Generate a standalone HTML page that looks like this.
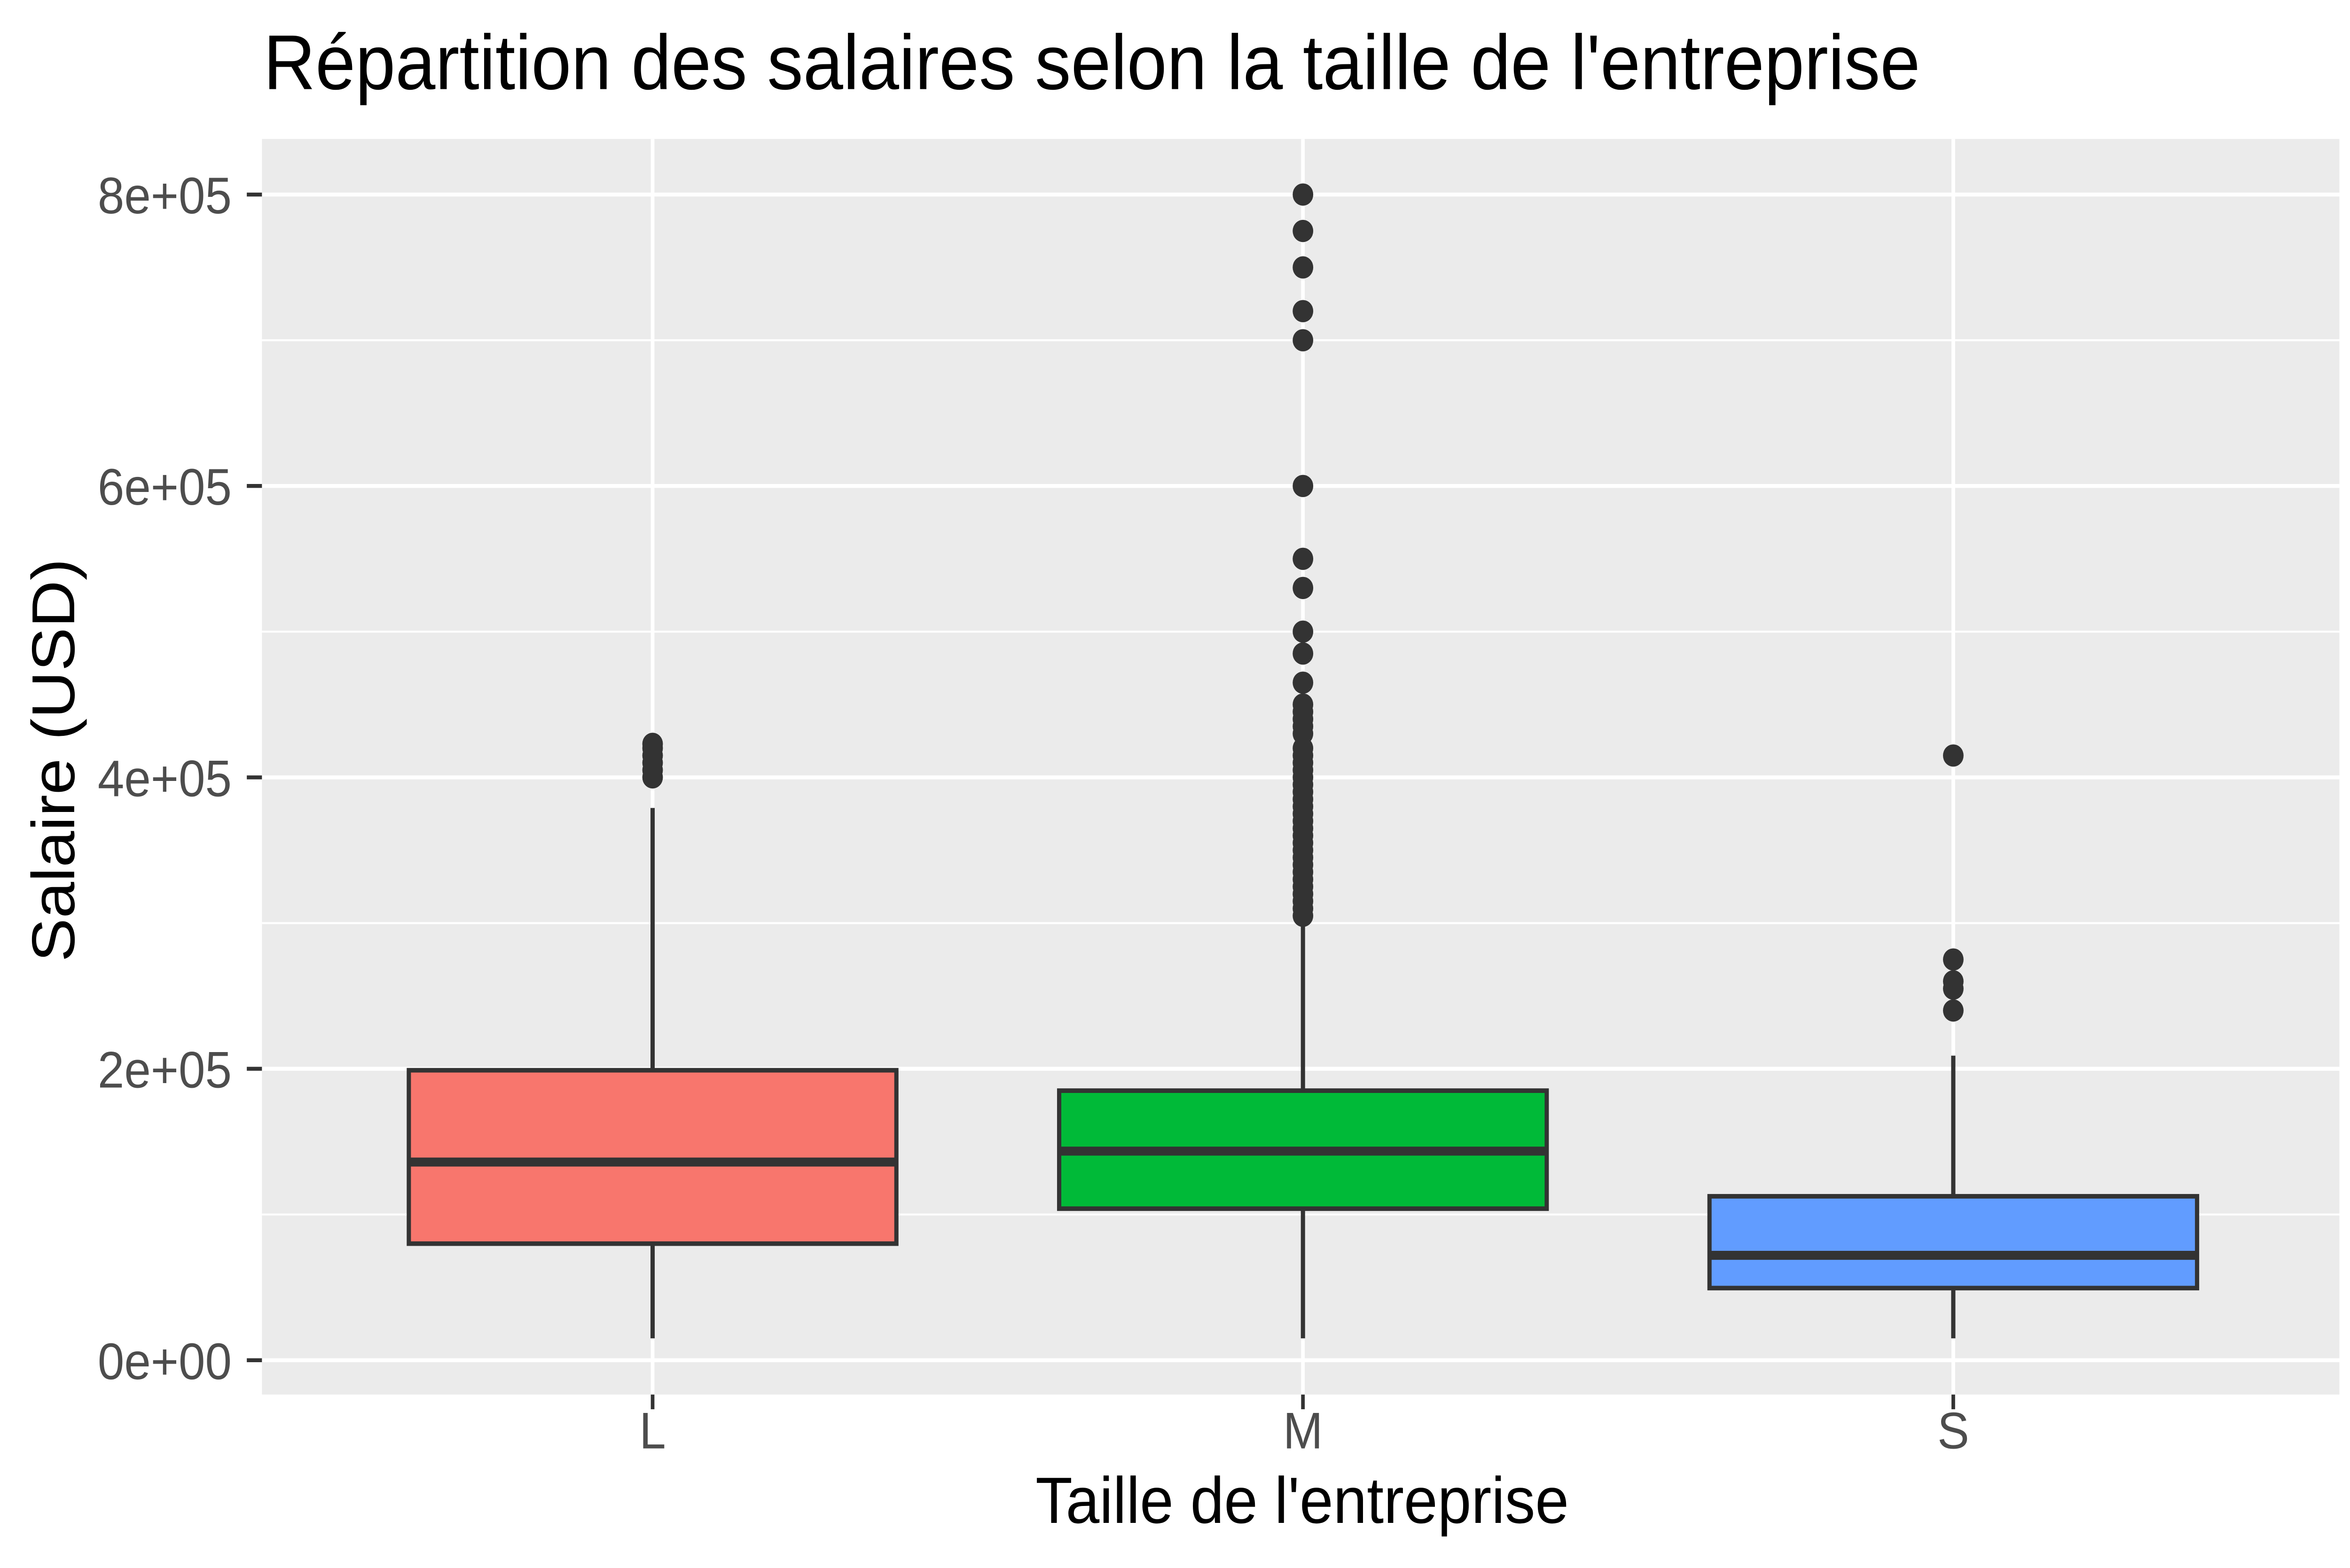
<!DOCTYPE html>
<html><head><meta charset="utf-8"><style>html,body{margin:0;padding:0;background:#fff;overflow:hidden;width:100%;height:100%}svg{display:block;width:100vw;height:100vh}</style></head>
<body>
<svg id="chart" xmlns="http://www.w3.org/2000/svg" viewBox="0 0 1552 959.1" preserveAspectRatio="none" font-family="Liberation Sans, Arial, sans-serif">
<rect width="1552" height="960" fill="#fff"/>
<rect x="173" y="85" width="1372" height="768" fill="#ebebeb"/>
<g id="grid"></g>
<g id="marks"></g>
<g id="axes"></g>
<text x="174" y="54.5" font-size="47.5" fill="#000">Répartition des salaires selon la taille de l'entreprise</text>
<text x="860" y="931.5" font-size="40" text-anchor="middle" fill="#000">Taille de l'entreprise</text>
<text transform="translate(49,465) rotate(-90)" font-size="40" text-anchor="middle" fill="#000">Salaire (USD)</text>
</svg>
<script>
const categories = ["L","M","S"];
const colors = ["#F8766D","#00BA38","#619CFF"];
const whiskerLow = [15000,15000,15000];
const q1 = [80000,104000,49500];
const median = [136000,143500,72000];
const q3 = [199000,185000,112500];
const whiskerHigh = [379000,302000,209000];
const outliersL = [400000,405000,410000,415000,420000,423000];
const outliersM = [305000,310000,315000,320000,325000,330000,335000,340000,345000,350000,355000,360000,365000,370000,375000,380000,385000,390000,395000,400000,405000,410000,415000,420000,430000,435000,440000,445000,450000,465000,485000,500000,530000,550000,600000,700000,720000,750000,775000,800000];
const outliersS = [240000,255000,260000,275000,415000];
const yTicks = [0,200000,400000,600000,800000];
const yTickLabels = ["0e+00","2e+05","4e+05","6e+05","8e+05"];
const yMinor = [100000,300000,500000,700000];

const NS="http://www.w3.org/2000/svg";
const y = v => 832 - v/200000*178.25;
const x = i => 431 + i*429.5;
const BW = 322;
function mk(tag, attrs, parent){const e=document.createElementNS(NS,tag);for(const k in attrs)e.setAttribute(k,attrs[k]);parent.appendChild(e);return e;}
const grid=document.getElementById('grid'), marks=document.getElementById('marks'), axes=document.getElementById('axes');
yMinor.forEach(v=>{const l=mk('line',{x1:173,x2:1545,y1:y(v),y2:y(v),stroke:'#fff','stroke-width':1.2},grid);

});
yTicks.forEach((v,i)=>{const l=mk('line',{x1:173,x2:1545,y1:y(v),y2:y(v),stroke:'#fff','stroke-width':2.4},grid);


const t=mk('line',{x1:163,x2:173,y1:y(v),y2:y(v),stroke:'#333','stroke-width':2.4},axes);


const tx=mk('text',{x:153,y:y(v)+11.5,'font-size':31.5,'text-anchor':'end',fill:'#4d4d4d'},axes);
tx.textContent=yTickLabels[i];

});
categories.forEach((c,i)=>{const l=mk('line',{x1:x(i),x2:x(i),y1:85,y2:853,stroke:'#fff','stroke-width':2.4},grid);


const t=mk('line',{x1:x(i),x2:x(i),y1:853,y2:862,stroke:'#333','stroke-width':2.4},axes);


const tx=mk('text',{x:x(i),y:886,'font-size':31.5,'text-anchor':'middle',fill:'#4d4d4d'},axes);
tx.textContent=c;

});
const outs=[outliersL,outliersM,outliersS];
categories.forEach((c,i)=>{
 const g=mk('g',{},marks);
 
 
 mk('line',{x1:x(i),x2:x(i),y1:y(whiskerLow[i]),y2:y(q1[i]),stroke:'#333','stroke-width':2.8},g);
 mk('line',{x1:x(i),x2:x(i),y1:y(q3[i]),y2:y(whiskerHigh[i]),stroke:'#333','stroke-width':2.8},g);
 mk('rect',{x:x(i)-BW/2,y:y(q3[i]),width:BW,height:y(q1[i])-y(q3[i]),fill:colors[i],stroke:'#333','stroke-width':2.8},g);
 mk('line',{x1:x(i)-BW/2,x2:x(i)+BW/2,y1:y(median[i]),y2:y(median[i]),stroke:'#333','stroke-width':5.5},g);
 outs[i].forEach(v=>{const p=mk('circle',{cx:x(i),cy:y(v),r:6.8,fill:'#333'},g);
 
 });
});
</script>
</body></html>
